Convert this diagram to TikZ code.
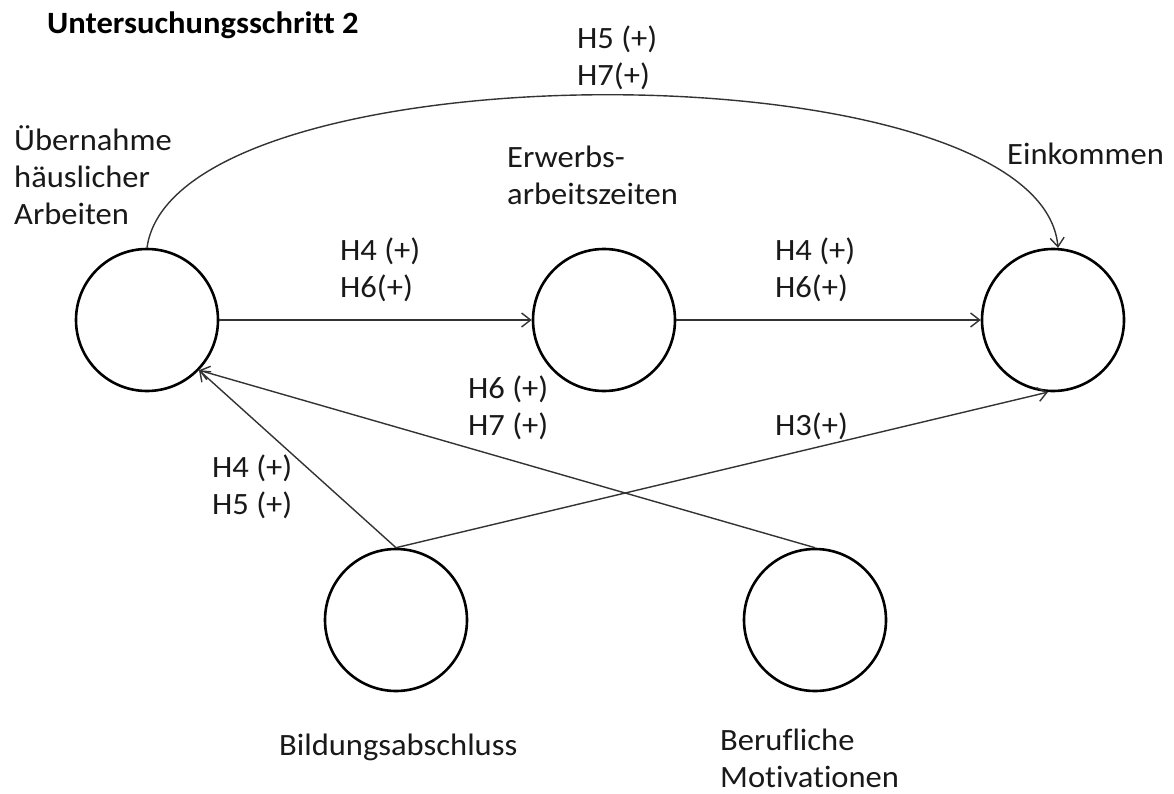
\documentclass[tikz,border=0pt]{standalone}
\usepackage{fontspec}
\setmainfont{Carlito}[Ligatures={NoCommon},FakeStretch=1.05]
\usetikzlibrary{arrows.meta}
\begin{document}
\begin{tikzpicture}[x=1pt,y=-1pt,
  var/.style={circle,draw=black,line width=2.6pt,minimum size=142pt,inner sep=0pt},
  conn/.style={draw=black!80,line width=1.4pt,-{Straight Barb[length=9pt,width=14pt,line width=1.4pt]}},
  lbl/.style={font=\fontsize{31}{37}\selectfont,text=black!90,inner sep=0pt,align=left},
  ttl/.style={font=\fontsize{31}{37}\selectfont\bfseries,text=black,inner sep=0pt}]
\path[use as bounding box,fill=white] (0,0) rectangle (1174,794);
% variables
\node[var] (A) at (147,320) {};
\node[var] (B) at (604,320) {};
\node[var] (C) at (1053,320) {};
\node[var] (D) at (396,620) {};
\node[var] (E) at (815,620) {};
% connectors
\draw[conn] (A) -- (B);
\draw[conn] (B) -- (C);
\draw[conn] (A.north) .. controls (175,44) and (1040,44) .. (C.86);
\draw[conn] (D.north) -- (A.-44);
\draw[conn] (E.north) -- (A.-44);
\draw[conn] (D.north) -- (C.-94);
% texts
\node[ttl,anchor=base west] (t) at (47,34) {Untersuchungsschritt 2};
\node[lbl,anchor=north west] (la) at (14,124) {\strut Übernahme\\\strut häuslicher\\\strut Arbeiten};
\node[lbl,anchor=north west] (lb) at (507,141) {\strut Erwerbs-\\\strut arbeitszeiten};
\node[lbl,anchor=base west] (lc) at (1007,165) {Einkommen};
\node[lbl,anchor=north west] (ld) at (279,729) {\strut Bildungsabschluss};
\node[lbl,anchor=north west] (le) at (720,724) {\strut Berufliche\\Motivationen};
\node[lbl,anchor=north west] (h1) at (577,22) {\strut H5 (+)\\\strut H7(+)};
\node[lbl,anchor=north west] (h2) at (340,234) {\strut H4 (+)\\\strut H6(+)};
\node[lbl,anchor=north west] (h3) at (775,234) {\strut H4 (+)\\\strut H6(+)};
\node[lbl,anchor=north west] (h4) at (468,372) {\strut H6 (+)\\\strut H7 (+)};
\node[lbl,anchor=base west] (h5) at (775,435) {H3(+)};
\node[lbl,anchor=north west] (h6) at (212,451) {\strut H4 (+)\\\strut H5 (+)};
\end{tikzpicture}
\end{document}
